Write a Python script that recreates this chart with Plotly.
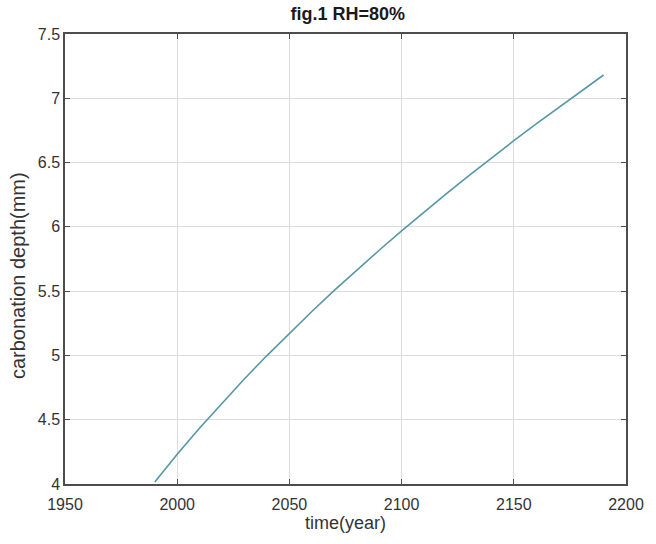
import plotly.graph_objects as go

# Carbonation depth over time at 80% relative humidity
years = [1990, 2000, 2010, 2020, 2030, 2040, 2050, 2060, 2070, 2080, 2090,
         2100, 2110, 2120, 2130, 2140, 2150, 2160, 2170, 2180, 2190]
depth_mm = [4.016, 4.231, 4.436, 4.631, 4.819, 4.999, 5.173, 5.342, 5.506,
            5.664, 5.818, 5.969, 6.115, 6.259, 6.399, 6.536, 6.670, 6.801,
            6.930, 7.057, 7.181]

x_ticks = [1950, 2000, 2050, 2100, 2150, 2200]
y_ticks = [4, 4.5, 5, 5.5, 6, 6.5, 7, 7.5]
y_tick_text = ["4", "4.5", "5", "5.5", "6", "6.5", "7", "7.5"]

font_family = "Liberation Sans, Arial, sans-serif"

fig = go.Figure()
fig.add_trace(go.Scatter(
    x=years, y=depth_mm, mode="lines",
    line=dict(color="#5497a8", width=1.6),
    showlegend=False, hoverinfo="x+y",
))

axis_common = dict(
    showline=True, linecolor="#4d4d4d", linewidth=1.5, mirror="ticks",
    ticks="inside", ticklen=5, tickwidth=1, tickcolor="#4d4d4d",
    showgrid=True, gridcolor="#dcdcdc", gridwidth=1,
    zeroline=False,
    tickfont=dict(family=font_family, size=16, color="#333333"),
)

fig.update_layout(
    width=656, height=544,
    margin=dict(l=65, r=23, t=34, b=60),
    paper_bgcolor="white", plot_bgcolor="white",
    title=dict(
        text="<b>fig.1 RH=80%</b>",
        x=0.53, xanchor="center", y=0.974, yanchor="middle",
        font=dict(family=font_family, size=18, color="#1a1a1a"),
    ),
    xaxis=dict(
        range=[1950, 2200], tickvals=x_ticks, ticklabelstandoff=5,
        title=dict(text="time(year)", standoff=3,
                   font=dict(family=font_family, size=18, color="#333333")),
        **axis_common,
    ),
    yaxis=dict(
        range=[4, 7.5], tickvals=y_ticks, ticktext=y_tick_text,
        **axis_common,
    ),
    annotations=[dict(
        text="carbonation depth(mm)", textangle=-90,
        xref="paper", yref="paper", x=0, y=0.462,
        xanchor="center", yanchor="middle", xshift=-47, showarrow=False,
        font=dict(family=font_family, size=20, color="#333333"),
    )],
)

fig.write_html("out.html")
